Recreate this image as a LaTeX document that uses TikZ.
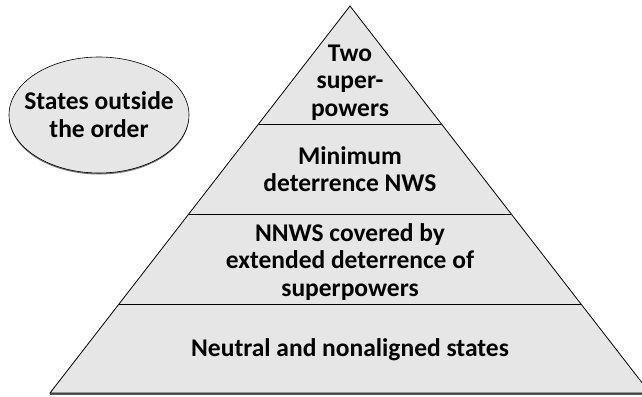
\documentclass[tikz,border=0pt]{standalone}
\usepackage{fontspec}
\setmainfont{Carlito}
\usetikzlibrary{calc}
\definecolor{fillgray}{HTML}{E6E6E6}
\begin{document}
\begin{tikzpicture}[x=1pt,y=-1pt,
  lbl/.style={font=\bfseries\fontsize{25.5}{27.5}\selectfont, align=center, inner sep=0pt},
  edge/.style={draw=black, line width=0.8pt}]
\useasboundingbox (0,0) rectangle (642,396);
\clip (0,0) rectangle (642,396);
\coordinate (apex) at (350,6);
\coordinate (bl) at (50,393);
\coordinate (br) at (650,393);
% shadow of base
\draw[line width=2pt, black!65] ($(bl)+(0,1.2)$) -- ($(br)+(0,1.2)$);
\fill[fillgray] (apex) -- (br) -- (bl) -- cycle;
\draw[edge, line join=miter] (apex) -- (br) -- (bl) -- cycle;
% dividers
\foreach \t/\n in {0.3049/a,0.5375/b,0.7700/c}{
  \coordinate (L\n) at ($(apex)!\t!(bl)$);
  \coordinate (R\n) at ($(apex)!\t!(br)$);
  \draw[edge] (L\n) -- (R\n);
}
% ellipse with shadow
\fill[black!55] (99,116.5) ellipse [x radius=90, y radius=58];
\fill[fillgray] (99,115) ellipse [x radius=90, y radius=58];
\draw[black, line width=0.6pt] (99,115) ellipse [x radius=90, y radius=58];
% labels
\node[lbl] (top) at (350,82.5) {Two\\super-\\powers};
\node[lbl] (min) at (350,169) {Minimum\\deterrence NWS};
\node[lbl] (nnws) at (350,262) {NNWS covered by\\extended deterrence of\\superpowers};
\node[lbl] (neutral) at (350,349.5) {Neutral and nonaligned states};
\node[lbl] (outside) at (99,114.5) {States outside\\the order};
\end{tikzpicture}
\end{document}
